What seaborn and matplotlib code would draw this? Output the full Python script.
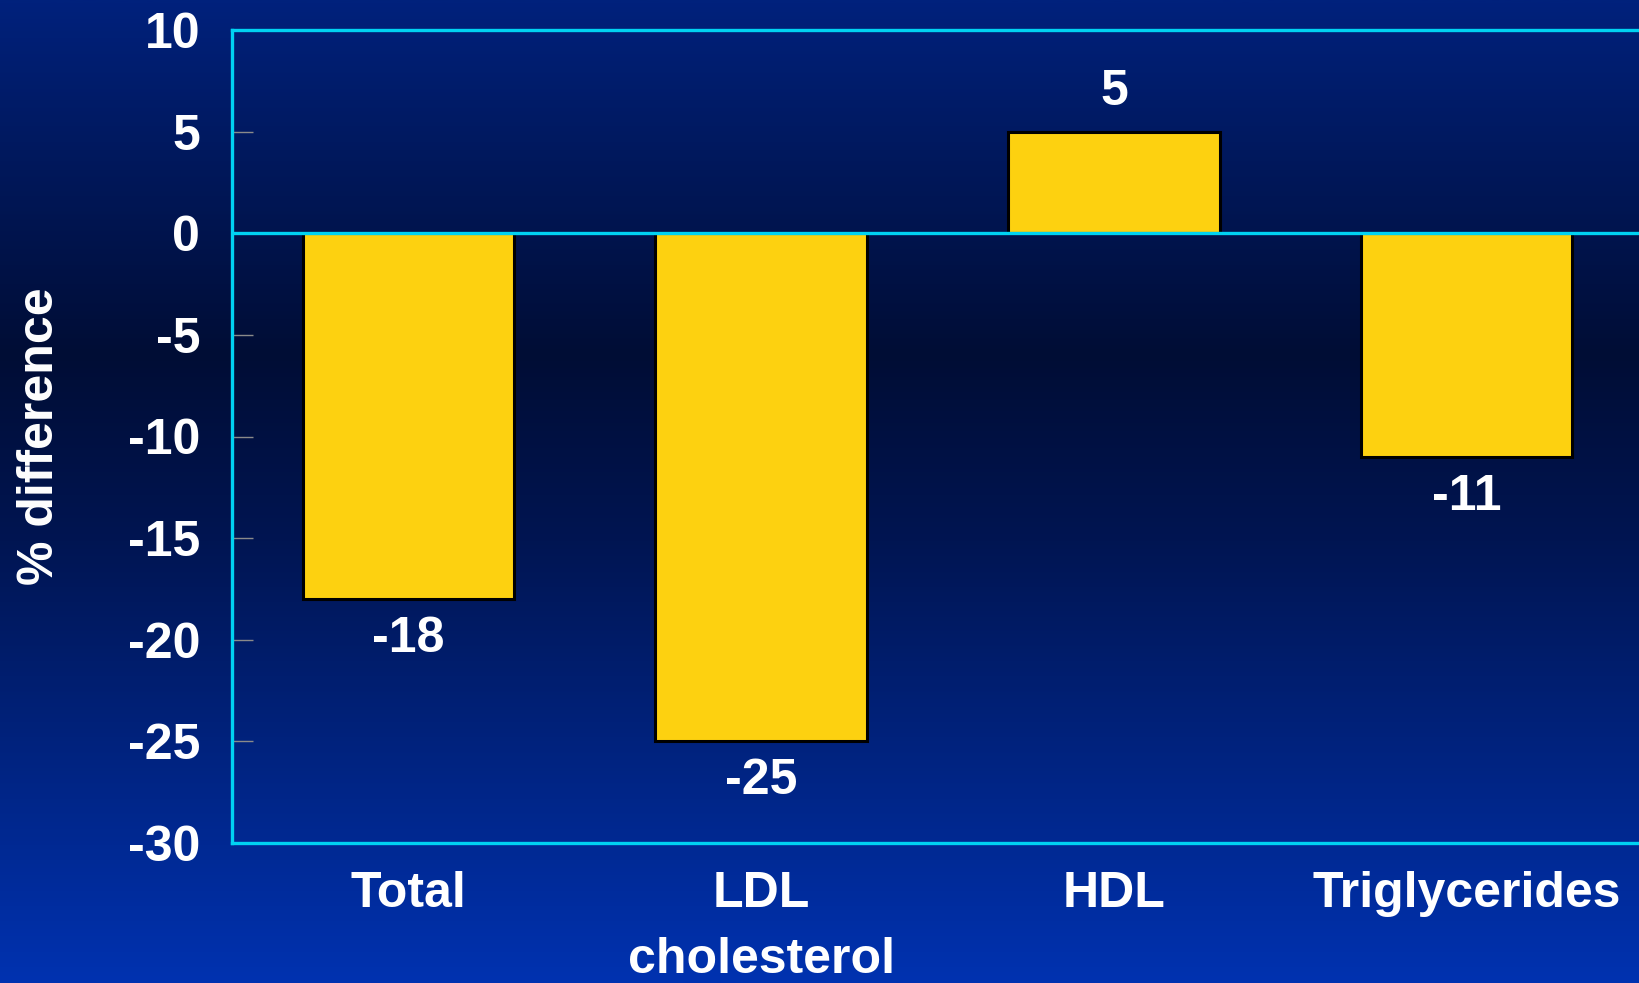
import numpy as np
import pandas as pd
import matplotlib
matplotlib.use("Agg")
import matplotlib.pyplot as plt
from matplotlib.colors import LinearSegmentedColormap
import seaborn as sns

# Lipid changes (% difference)
categories = ["Total", "LDL\ncholesterol", "HDL", "Triglycerides"]
values = [-18, -25, 5, -11]
value_labels = ["-18", "-25", "5", "-11"]
yticks = [10, 5, 0, -5, -10, -15, -20, -25, -30]

df = pd.DataFrame({"category": categories, "value": values})

sns.set_theme(style="white")
plt.rcParams["font.family"] = ["Liberation Sans", "DejaVu Sans"]
plt.rcParams["font.weight"] = "bold"

W, H, DPI = 1640, 983, 100
fig = plt.figure(figsize=(W / DPI, H / DPI), dpi=DPI)

# Vertical gradient backdrop: navy at top, darkest in the middle, bright blue at bottom
bg = fig.add_axes([0, 0, 1, 1], zorder=0)
bg_cmap = LinearSegmentedColormap.from_list(
    "slide",
    [(0.0, "#00217c"), (0.36, "#000d35"), (0.55, "#001552"), (1.0, "#0032b0")],
)
grad = np.linspace(0, 1, 512).reshape(-1, 1)
bg.imshow(grad, aspect="auto", cmap=bg_cmap, extent=[0, 1, 0, 1], origin="upper")
bg.set_axis_off()

left, right = 232 / W, 1643 / W
top, bottom = 1 - 30 / H, 1 - 843 / H
ax = fig.add_axes([left, bottom, right - left, top - bottom], zorder=1)
ax.set_facecolor("none")

sns.barplot(data=df, x="category", y="value", ax=ax, color="#fdd110",
            saturation=1, width=0.6, edgecolor="black", linewidth=2.2, zorder=2)

ax.set_xlim(-0.5, 3.5)
ax.set_ylim(-30, 10)
ax.set_yticks(yticks)
ax.set_yticklabels([str(t) for t in yticks])

cyan = "#00d2f2"
ax.axhline(0, color=cyan, lw=2.4, zorder=3)
for side in ["left", "top", "bottom"]:
    ax.spines[side].set_visible(True)
    ax.spines[side].set_color(cyan)
    ax.spines[side].set_linewidth(2.4)
ax.spines["right"].set_visible(False)

ax.tick_params(axis="y", direction="in", length=15, width=1, color="#8a8a8a",
               labelsize=36, labelcolor="white", pad=23, left=True)
ax.tick_params(axis="x", length=0, labelsize=36, labelcolor="white", pad=20)
for lbl in ax.get_xticklabels() + ax.get_yticklabels():
    lbl.set_fontweight("bold")
for lbl in ax.get_xticklabels():
    lbl.set_linespacing(1.55)
    lbl.set_verticalalignment("top")

ax.set_xlabel("")
ax.set_ylabel("% difference", fontsize=36, color="white", fontweight="bold")
ax.yaxis.set_label_coords(-169 / (1643 - 232), 0.5)

for i, (v, t) in enumerate(zip(values, value_labels)):
    off = 40 if v > 0 else -40
    ax.annotate(t, xy=(i, v), xytext=(0, off * 0.72), textcoords="offset points",
                ha="center", va="center", fontsize=36, fontweight="bold", color="white")

fig.savefig("out.png", dpi=DPI)
